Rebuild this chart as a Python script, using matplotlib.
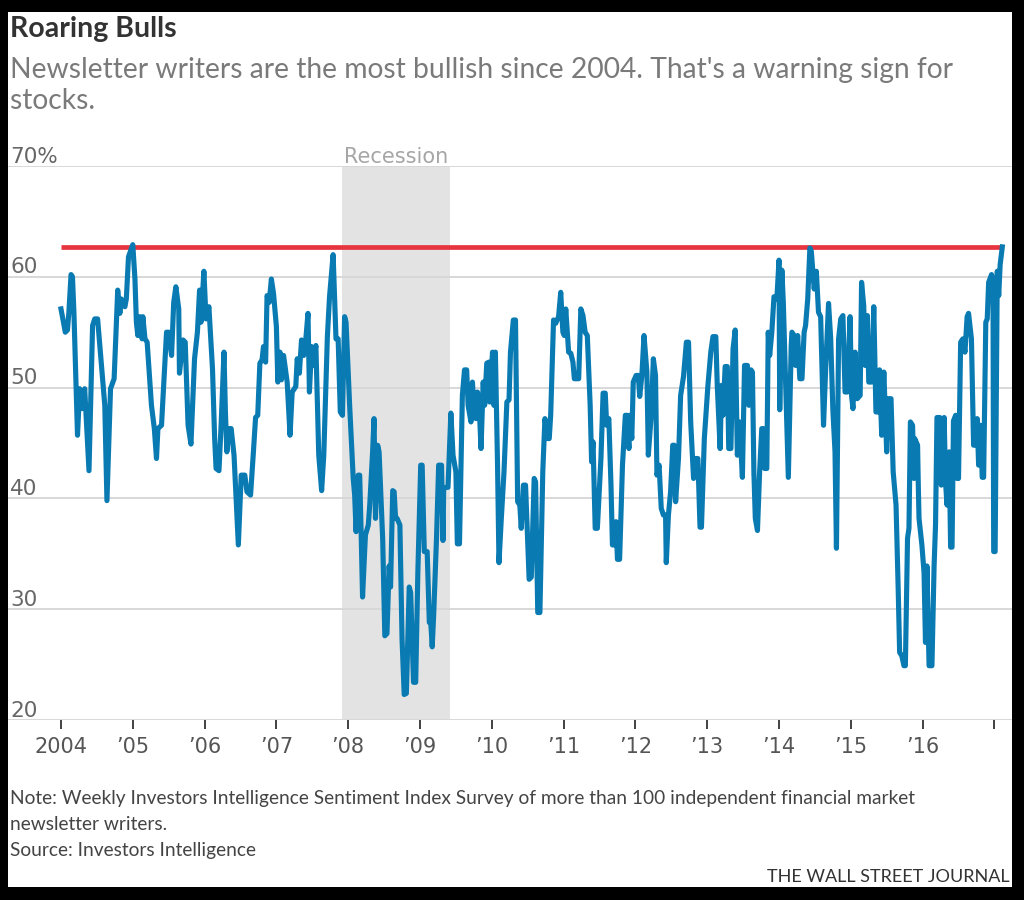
import matplotlib.pyplot as plt
from matplotlib.patches import Rectangle
from matplotlib.transforms import blended_transform_factory

# Weekly bullish readings (decimal year, percent)
dates = [
    2004.00, 2004.06, 2004.09, 2004.11, 2004.14, 2004.16, 2004.18, 2004.23, 2004.26, 2004.29, 2004.33, 2004.39, 2004.44, 2004.47, 2004.51, 2004.61, 2004.64, 2004.69, 2004.74, 2004.79, 2004.82, 2004.84, 2004.89, 2004.91, 2004.94,
    2005.00, 2005.03, 2005.05, 2005.07, 2005.10, 2005.13, 2005.14, 2005.17, 2005.20, 2005.26, 2005.30, 2005.33, 2005.35, 2005.40, 2005.47, 2005.50, 2005.54, 2005.57, 2005.60, 2005.64, 2005.65, 2005.70, 2005.73, 2005.77, 2005.81, 2005.86, 2005.90, 2005.93, 2005.95, 2005.99,
    2006.02, 2006.06, 2006.11, 2006.14, 2006.16, 2006.20, 2006.23, 2006.27, 2006.29, 2006.31, 2006.34, 2006.37, 2006.41, 2006.47, 2006.51, 2006.56, 2006.59, 2006.64, 2006.68, 2006.71, 2006.74, 2006.77, 2006.80, 2006.82, 2006.85, 2006.87, 2006.90, 2006.93, 2006.96,
    2007.00, 2007.02, 2007.05, 2007.07, 2007.10, 2007.15, 2007.19, 2007.22, 2007.27, 2007.29, 2007.32, 2007.35, 2007.38, 2007.41, 2007.44, 2007.46, 2007.49, 2007.51, 2007.55, 2007.59, 2007.63, 2007.66, 2007.71, 2007.74, 2007.79, 2007.83, 2007.86, 2007.89, 2007.92, 2007.95, 2007.97,
    2008.02, 2008.07, 2008.09, 2008.11, 2008.14, 2008.16, 2008.18, 2008.20, 2008.24, 2008.28, 2008.30, 2008.34, 2008.36, 2008.38, 2008.41, 2008.43, 2008.48, 2008.51, 2008.54, 2008.57, 2008.59, 2008.62, 2008.64, 2008.66, 2008.68, 2008.72, 2008.75, 2008.78, 2008.81, 2008.85, 2008.87, 2008.91, 2008.94, 2008.97,
    2009.01, 2009.03, 2009.06, 2009.10, 2009.13, 2009.15, 2009.17, 2009.19, 2009.23, 2009.26, 2009.30, 2009.32, 2009.33, 2009.37, 2009.39, 2009.43, 2009.46, 2009.50, 2009.52, 2009.55, 2009.59, 2009.62, 2009.65, 2009.67, 2009.71, 2009.73, 2009.75, 2009.78, 2009.80, 2009.82, 2009.85, 2009.88, 2009.90, 2009.93, 2009.96, 2009.97,
    2010.01, 2010.03, 2010.05, 2010.08, 2010.10, 2010.13, 2010.17, 2010.21, 2010.24, 2010.26, 2010.30, 2010.33, 2010.36, 2010.39, 2010.41, 2010.44, 2010.47, 2010.52, 2010.55, 2010.57, 2010.59, 2010.61, 2010.64, 2010.67, 2010.71, 2010.74, 2010.78, 2010.80, 2010.82, 2010.86, 2010.89, 2010.93, 2010.96, 2010.99,
    2011.01, 2011.03, 2011.07, 2011.10, 2011.13, 2011.15, 2011.18, 2011.21, 2011.24, 2011.27, 2011.30, 2011.33, 2011.37, 2011.39, 2011.41, 2011.44, 2011.47, 2011.52, 2011.55, 2011.58, 2011.60, 2011.63, 2011.66, 2011.68, 2011.71, 2011.73, 2011.75, 2011.78, 2011.82, 2011.86, 2011.88, 2011.91, 2011.92, 2011.95, 2011.97,
    2012.01, 2012.04, 2012.06, 2012.09, 2012.12, 2012.16, 2012.18, 2012.22, 2012.25, 2012.28, 2012.30, 2012.33, 2012.36, 2012.39, 2012.42, 2012.43, 2012.46, 2012.49, 2012.52, 2012.54, 2012.56, 2012.60, 2012.63, 2012.67, 2012.71, 2012.74, 2012.77, 2012.81, 2012.83, 2012.87, 2012.90, 2012.92, 2012.96,
    2013.01, 2013.05, 2013.08, 2013.12, 2013.14, 2013.18, 2013.20, 2013.22, 2013.25, 2013.28, 2013.30, 2013.33, 2013.36, 2013.39, 2013.42, 2013.45, 2013.49, 2013.52, 2013.56, 2013.58, 2013.61, 2013.63, 2013.65, 2013.67, 2013.70, 2013.73, 2013.76, 2013.78, 2013.80, 2013.83, 2013.85, 2013.87, 2013.90, 2013.93, 2013.97,
    2014.00, 2014.01, 2014.04, 2014.06, 2014.09, 2014.13, 2014.17, 2014.18, 2014.21, 2014.23, 2014.26, 2014.29, 2014.32, 2014.35, 2014.37, 2014.40, 2014.43, 2014.45, 2014.49, 2014.52, 2014.55, 2014.58, 2014.62, 2014.65, 2014.69, 2014.72, 2014.75, 2014.78, 2014.80, 2014.83, 2014.86, 2014.89, 2014.92, 2014.95, 2014.99,
    2015.01, 2015.03, 2015.06, 2015.09, 2015.13, 2015.15, 2015.18, 2015.20, 2015.23, 2015.25, 2015.29, 2015.32, 2015.35, 2015.38, 2015.40, 2015.43, 2015.46, 2015.50, 2015.52, 2015.56, 2015.59, 2015.63, 2015.66, 2015.68, 2015.71, 2015.74, 2015.76, 2015.79, 2015.81, 2015.83, 2015.86, 2015.88, 2015.89, 2015.93, 2015.94, 2015.95, 2015.99,
    2016.02, 2016.04, 2016.06, 2016.09, 2016.13, 2016.16, 2016.18, 2016.20, 2016.24, 2016.26, 2016.30, 2016.32, 2016.34, 2016.37, 2016.39, 2016.41, 2016.43, 2016.46, 2016.48, 2016.50, 2016.53, 2016.56, 2016.59, 2016.62, 2016.64, 2016.68, 2016.71, 2016.74, 2016.76, 2016.78, 2016.81, 2016.83, 2016.85, 2016.88, 2016.90, 2016.92, 2016.96, 2016.98, 2016.99, 2017.01, 2017.04, 2017.06, 2017.08, 2017.11,
]
bulls = [
    57.1, 55.0, 55.2, 56.8, 60.2, 60.0, 56.8, 45.7, 49.9, 48.1, 49.9, 42.5, 55.6, 56.2, 56.2, 48.4, 39.8, 49.9, 50.8, 58.8, 56.7, 58.0, 57.3, 58.0, 61.8,
    62.9, 59.8, 55.9, 54.7, 56.4, 54.4, 56.4, 54.4, 54.1, 48.4, 46.3, 43.6, 46.3, 46.6, 55.0, 55.0, 52.9, 57.7, 59.1, 57.1, 51.3, 54.3, 54.1, 46.6, 44.9, 52.6, 55.0, 58.8, 55.9, 60.5,
    56.2, 57.3, 51.7, 45.4, 42.7, 42.5, 46.6, 53.2, 47.8, 44.2, 46.3, 46.3, 43.9, 35.8, 42.1, 42.1, 40.6, 40.3, 44.2, 47.3, 47.5, 52.2, 52.5, 53.7, 52.3, 58.3, 57.7, 59.8, 58.5,
    55.5, 50.5, 53.2, 50.7, 52.9, 50.5, 45.7, 49.6, 50.1, 52.6, 51.3, 54.3, 52.9, 54.4, 56.7, 49.6, 53.7, 52.0, 53.8, 43.9, 40.7, 43.9, 54.6, 58.2, 62.0, 54.4, 54.4, 47.8, 47.5, 56.4, 55.9,
    48.4, 41.8, 40.3, 37.0, 42.1, 42.1, 37.0, 31.1, 36.7, 37.6, 39.4, 44.2, 47.2, 38.2, 44.8, 44.2, 36.4, 27.6, 27.8, 33.9, 32.0, 40.7, 40.6, 38.2, 38.2, 37.6, 27.3, 22.3, 22.4, 32.0, 31.5, 23.4, 23.4, 33.3,
    43.0, 43.0, 35.2, 35.2, 28.8, 28.8, 26.6, 29.4, 36.4, 43.0, 43.0, 36.2, 40.9, 41.0, 41.0, 47.7, 43.9, 42.4, 35.9, 35.9, 49.3, 51.6, 51.6, 48.4, 46.9, 50.5, 48.4, 47.2, 49.6, 49.0, 44.5, 50.5, 48.4, 52.2, 52.3, 48.7,
    53.2, 48.4, 53.2, 43.0, 34.2, 37.9, 42.4, 48.7, 48.9, 53.2, 56.1, 56.1, 39.7, 39.4, 37.3, 41.2, 41.2, 32.7, 32.9, 37.3, 41.8, 41.5, 29.7, 29.7, 42.4, 47.2, 45.4, 45.4, 47.5, 56.1, 55.8, 56.4, 58.6, 55.0,
    54.7, 57.1, 53.2, 53.1, 52.3, 50.8, 50.8, 50.8, 57.1, 56.5, 55.0, 54.7, 48.4, 43.3, 45.1, 37.3, 37.3, 43.6, 49.5, 49.5, 46.6, 47.2, 41.2, 35.8, 35.8, 37.9, 34.5, 34.5, 43.0, 47.5, 47.5, 44.5, 47.5, 45.4, 50.5,
    51.1, 51.1, 49.2, 51.1, 54.7, 51.4, 43.9, 47.5, 52.6, 51.1, 42.1, 43.0, 39.1, 38.5, 38.5, 34.2, 38.5, 40.6, 44.8, 44.8, 39.7, 43.6, 49.3, 51.0, 54.1, 54.1, 46.9, 41.8, 43.6, 43.6, 37.4, 37.4, 45.4,
    50.2, 53.2, 54.6, 54.6, 50.2, 44.5, 50.2, 47.5, 51.9, 51.9, 44.5, 44.5, 53.5, 55.2, 43.9, 46.9, 41.9, 52.0, 52.0, 48.4, 51.6, 51.4, 42.4, 38.2, 37.1, 42.4, 46.3, 46.3, 42.7, 42.7, 55.0, 52.9, 55.0, 58.2, 58.0,
    61.5, 48.0, 60.6, 57.7, 50.8, 41.9, 53.8, 55.0, 54.7, 52.0, 54.7, 50.8, 50.8, 55.0, 55.6, 58.0, 62.6, 62.3, 58.9, 60.5, 56.8, 56.4, 46.6, 51.7, 57.6, 54.4, 48.0, 44.2, 35.5, 54.4, 56.2, 56.5, 49.6, 49.6, 56.4,
    49.3, 48.1, 53.2, 49.0, 49.3, 59.5, 57.4, 52.0, 56.5, 50.5, 50.5, 57.3, 47.8, 47.8, 51.6, 45.7, 51.4, 44.2, 49.0, 49.0, 42.4, 39.4, 31.8, 26.1, 25.8, 24.9, 24.9, 36.4, 37.3, 46.9, 46.6, 41.8, 45.4, 44.8, 41.2, 38.2, 35.8,
    33.3, 27.0, 33.9, 24.9, 24.9, 33.9, 37.6, 47.3, 47.3, 41.2, 47.3, 41.4, 39.4, 44.2, 35.6, 35.6, 47.0, 47.5, 41.8, 41.8, 54.1, 54.4, 53.2, 56.4, 56.7, 54.4, 44.8, 44.8, 47.2, 43.0, 46.6, 41.9, 41.9, 55.9, 56.2, 59.5, 60.2, 59.8, 35.2, 35.2, 60.5, 58.3, 61.1, 62.7,
]

recession = (2007.92, 2009.42)
years = list(range(2004, 2018))
year_labels = ['2004'] + ['\u2019%02d' % (y % 100) for y in years[1:-1]] + ['']
y_levels = [20, 30, 40, 50, 60, 70]
y_labels = ['20', '30', '40', '50', '60', '70%']

TEXT_FONT = ['Lato', 'DejaVu Sans']

fig = plt.figure(figsize=(10.24, 9.0), dpi=100, facecolor='black')
# white card inside the black frame
fig.add_artist(Rectangle((8 / 1024, 13 / 900), 1004 / 1024, 875 / 900,
                         transform=fig.transFigure, facecolor='white',
                         edgecolor='none', zorder=0))

ax = fig.add_axes([8 / 1024, 180 / 900, 1004 / 1024, 554 / 900])
ax.set_facecolor('none')
ax.set_xlim(2003.262, 2017.245)
ax.set_ylim(20, 70)

# recession band and gridlines
ax.axvspan(recession[0], recession[1], color='#e3e3e3', lw=0, zorder=0.5)
for v in y_levels:
    ax.axhline(v, color='#d6d6d6', lw=1.3, zorder=1)

# current reading marked across the whole period
ax.hlines(bulls[-1], dates[0], dates[-1], color='#e63540', lw=3.4, zorder=2)
ax.plot(dates, bulls, color='#0a7ab2', lw=3.7, zorder=3)

for s in ax.spines.values():
    s.set_visible(False)
ax.set_yticks([])
ax.set_xticks(years)
ax.set_xticklabels(year_labels)
ax.tick_params(axis='x', length=6.5, width=1.3, color='#333333', pad=6,
               labelsize=15, labelcolor='#555555')

trans = blended_transform_factory(ax.transAxes, ax.transData)
for v, lab in zip(y_levels, y_labels):
    ax.annotate(lab, xy=(0.002, v), xycoords=trans, xytext=(0, 2.5),
                textcoords='offset points', ha='left', va='baseline',
                fontsize=15.5, color='#666666', annotation_clip=False)

ax.annotate('Recession', xy=(sum(recession) / 2, 70), xytext=(0, 2.5),
            textcoords='offset points', ha='center', va='baseline',
            fontsize=15, color='#a6a6a6', annotation_clip=False)

# headline and notes
fig.text(10 / 1024, 1 - 37 / 900, 'Roaring Bulls', fontsize=20.5,
         fontweight='bold', color='#333333', family=TEXT_FONT, va='baseline')
fig.text(10 / 1024, 1 - 78 / 900,
         "Newsletter writers are the most bullish since 2004. That's a warning sign for",
         fontsize=20.3, color='#7a7a7a', family=TEXT_FONT, va='baseline')
fig.text(10 / 1024, 1 - 109 / 900, 'stocks.', fontsize=20.3, color='#7a7a7a',
         family=TEXT_FONT, va='baseline')

fig.text(10 / 1024, 1 - 804 / 900,
         'Note: Weekly Investors Intelligence Sentiment Index Survey of more than 100 independent financial market',
         fontsize=13.8, color='#444444', family=TEXT_FONT, va='baseline')
fig.text(10 / 1024, 1 - 830 / 900, 'newsletter writers.', fontsize=13.8,
         color='#444444', family=TEXT_FONT, va='baseline')
fig.text(10 / 1024, 1 - 856 / 900, 'Source: Investors Intelligence',
         fontsize=13.8, color='#444444', family=TEXT_FONT, va='baseline')
fig.text(1010 / 1024, 1 - 882 / 900, 'THE WALL STREET JOURNAL', fontsize=13,
         color='#333333', family=TEXT_FONT, ha='right', va='baseline')

fig.savefig('out.png', dpi=100, facecolor='black')
